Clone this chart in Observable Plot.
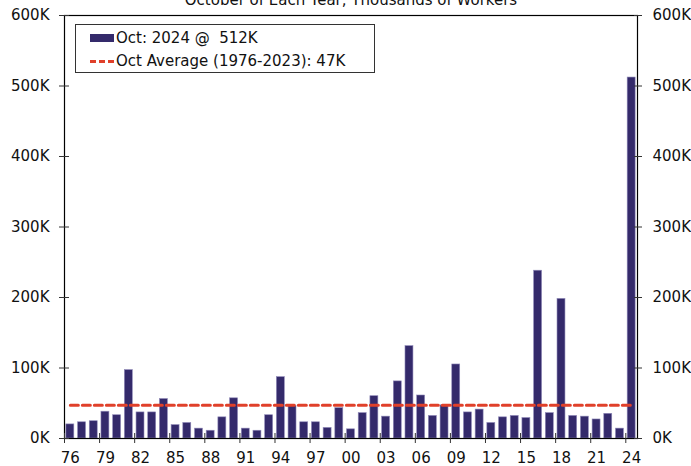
<!DOCTYPE html>
<html>
<head>
<meta charset="utf-8">
<script src="https://cdn.jsdelivr.net/npm/d3@7"></script>
<script src="https://cdn.jsdelivr.net/npm/@observablehq/plot@0.6"></script>
<style>
  html, body { margin: 0; padding: 0; background: #fff; }
  #wrap { position: relative; width: 691px; height: 466px; overflow: hidden; font-family: "DejaVu Sans", Verdana, sans-serif; }
  #legend { position: absolute; left: 75px; top: 24px; width: 298px; height: 47px; border: 1px solid #333; background: #fff; font-size: 15px; color: #111; }
  .row { position: absolute; left: 14px; white-space: pre; display: flex; align-items: center; }
  .sw { display: inline-block; width: 24px; height: 8px; background: #342a6b; margin-right: 2px; }
  .dash { display: inline-block; width: 24px; height: 0; border-top: 3px dashed #e0402a; margin-right: 2px; }
</style>
</head>
<body>
<div id="wrap">
  <div id="chart"></div>
  <div id="legend">
    <div class="row" style="top:4px"><span class="sw"></span><span>Oct: 2024 @  512K</span></div>
    <div class="row" style="top:27px"><span class="dash"></span><span>Oct Average (1976-2023): 47K</span></div>
  </div>
</div>
<script>
const title = "October of Each Year, Thousands of Workers";
const years = d3.range(1976, 2025);
const values = [
  20, 23, 24.5, 38, 33, 97, 37, 37, 56, 19,
  22, 14, 11, 30, 57, 14, 11, 33, 87, 46,
  23, 23, 15, 43, 13, 36, 60, 31, 81, 131,
  61, 32, 47, 105, 37, 41, 22, 30, 32, 29,
  238, 36, 198, 32, 31, 27, 35, 14, 512
];
const average = 47;
const yTicks = [0, 100, 200, 300, 400, 500, 600];
const xTickYears = years.filter((y, i) => i % 3 === 0);

const data = years.map((year, i) => ({year, value: values[i]}));
const avgData = years.map(year => ({year, value: average}));

const W = 691, H = 466;
const mL = 64, mR = 54, mT = 15, mB = 28;
const step = (W - mL - mR) / years.length;
const fmtK = d => d + "K";
const fmtYr = d => String(d).slice(2);

const chart = Plot.plot({
  width: W, height: H,
  marginLeft: mL, marginRight: mR, marginTop: mT, marginBottom: mB,
  style: {fontFamily: "'DejaVu Sans', Verdana, sans-serif", fontSize: "15px", color: "#111", overflow: "visible"},
  x: {type: "band", domain: years, paddingInner: 0.32, paddingOuter: 0.16, axis: null, label: null},
  y: {domain: [0, 600], axis: null, label: null},
  marks: [
    Plot.barY(data, {x: "year", y: "value", fill: "#342a6b", stroke: "#8f89b8", strokeWidth: 0.6}),
    Plot.lineY(avgData, {x: "year", y: "value", stroke: "#e0402a", strokeWidth: 3, strokeDasharray: "8,4"}),
    Plot.frame({stroke: "#000", strokeWidth: 1.2}),
    Plot.axisY({anchor: "left", label: null, ticks: yTicks, tickFormat: fmtK, tickSize: 10, dx: 5, tickPadding: 10, fontSize: 15, stroke: "#333"}),
    Plot.axisY({anchor: "right", label: null, ticks: yTicks, tickFormat: fmtK, tickSize: 8, dx: -4, tickPadding: 11, fontSize: 15, stroke: "#333"}),
    Plot.axisX({anchor: "bottom", label: null, ticks: xTickYears, tickFormat: () => "", tickSize: 10, dy: -5, dx: -step / 2, stroke: "#333"}),
    Plot.axisX({anchor: "bottom", label: null, ticks: xTickYears, tickFormat: fmtYr, tickSize: 0, tickPadding: 14, fontSize: 15}),
    Plot.text([title], {text: d => d, frameAnchor: "top", dy: -11, lineAnchor: "bottom", fontSize: 15})
  ]
});
document.getElementById("chart").appendChild(chart);
</script>
</body>
</html>
